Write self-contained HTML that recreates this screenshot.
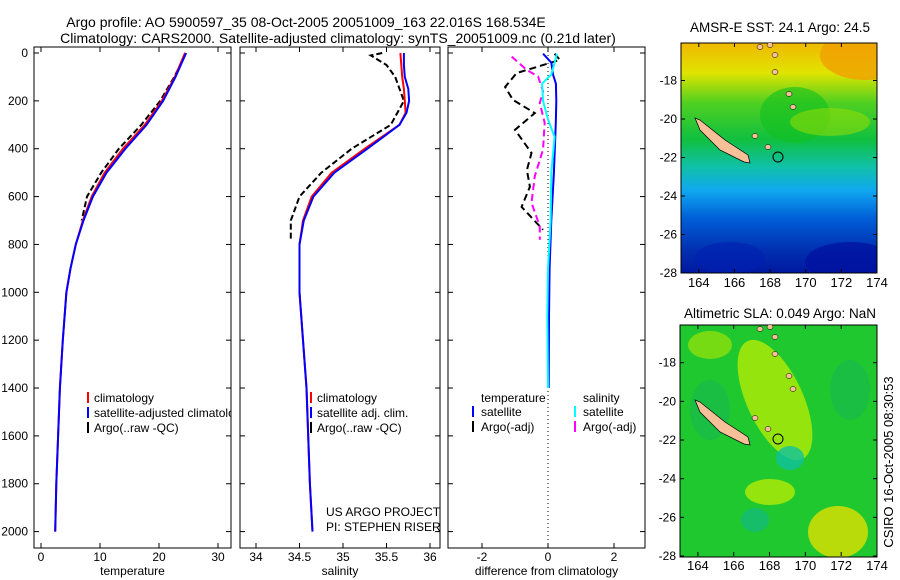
<!DOCTYPE html>
<html><head><meta charset="utf-8"><style>
html,body{margin:0;padding:0;background:#fff}
svg{display:block;font-family:"Liberation Sans",sans-serif}
text{font-size:12px;fill:#000}
.tt{font-size:14px}
.mt{font-size:13.5px}
.mk{font-size:13px}
</style></head><body>
<svg id="fig" width="900" height="580" viewBox="0 0 900 580">
<defs>
<linearGradient id="sst" x1="0" y1="0" x2="0" y2="1">
<stop offset="0" stop-color="#f0b800"/><stop offset="0.13" stop-color="#e0e400"/>
<stop offset="0.26" stop-color="#50d020"/><stop offset="0.42" stop-color="#10c040"/>
<stop offset="0.54" stop-color="#10c0a8"/><stop offset="0.64" stop-color="#10a8f0"/>
<stop offset="0.76" stop-color="#0060d8"/><stop offset="0.9" stop-color="#0030b0"/>
<stop offset="1" stop-color="#0018a0"/>
</linearGradient>
<clipPath id="c1"><rect x="34" y="47" width="197" height="501"/></clipPath>
<clipPath id="c2"><rect x="240" y="47" width="200" height="501"/></clipPath>
<clipPath id="c3"><rect x="448" y="47" width="197" height="501"/></clipPath>
<clipPath id="m1"><rect x="681" y="43" width="196" height="230"/></clipPath>
<clipPath id="m2"><rect x="680" y="325" width="197" height="232"/></clipPath>
</defs>
<text class="tt" x="306" y="27" text-anchor="middle">Argo profile: AO 5900597_35 08-Oct-2005 20051009_163 22.016S 168.534E</text>
<text class="tt" x="338" y="43" text-anchor="middle">Climatology: CARS2000. Satellite-adjusted climatology: synTS_20051009.nc (0.21d later)</text>

<g id="p1"></g>
<g id="p2"></g>
<g id="p3"></g>

<g clip-path="url(#c1)">
<line x1="88" y1="392" x2="88" y2="403" stroke="#f00" stroke-width="2"/><text x="94" y="402">climatology</text>
<line x1="88" y1="407" x2="88" y2="418" stroke="#00f" stroke-width="2"/><text x="94" y="417">satellite-adjusted climatology</text>
<line x1="88" y1="422" x2="88" y2="433" stroke="#000" stroke-width="2"/><text x="94" y="432">Argo(..raw -QC)</text>
</g>
<g>
<line x1="311" y1="392" x2="311" y2="403" stroke="#f00" stroke-width="2"/><text x="317" y="402">climatology</text>
<line x1="311" y1="407" x2="311" y2="418" stroke="#00f" stroke-width="2"/><text x="317" y="417">satellite adj. clim.</text>
<line x1="311" y1="422" x2="311" y2="433" stroke="#000" stroke-width="2"/><text x="317" y="432">Argo(..raw -QC)</text>
<text x="326" y="516">US ARGO PROJECT</text><text x="326" y="531">PI: STEPHEN RISER</text>
</g>
<g>
<text x="481" y="402">temperature</text><text x="583" y="402">salinity</text>
<line x1="473" y1="406" x2="473" y2="417" stroke="#00f" stroke-width="2"/><text x="481" y="416">satellite</text>
<line x1="473" y1="421" x2="473" y2="432" stroke="#000" stroke-width="2"/><text x="481" y="431">Argo(-adj)</text>
<line x1="575" y1="406" x2="575" y2="417" stroke="#0ff" stroke-width="2"/><text x="583" y="416">satellite</text>
<line x1="575" y1="421" x2="575" y2="432" stroke="#f0f" stroke-width="2"/><text x="583" y="431">Argo(-adj)</text>
</g>

<g>
<text class="mt" x="780" y="32" text-anchor="middle">AMSR-E SST: 24.1 Argo: 24.5</text>
<g clip-path="url(#m1)">
<rect x="681" y="43" width="196" height="230" fill="url(#sst)"/>
<ellipse cx="865" cy="55" rx="45" ry="25" fill="#f0a000" opacity="0.8"/>
<ellipse cx="795" cy="115" rx="35" ry="28" fill="#10c020" opacity="0.6"/>
<ellipse cx="830" cy="122" rx="40" ry="14" fill="#a0e000" opacity="0.5"/>
<ellipse cx="850" cy="262" rx="45" ry="20" fill="#0010a0" opacity="0.7"/>
<ellipse cx="730" cy="258" rx="35" ry="16" fill="#0020b0" opacity="0.6"/>
</g>
<rect x="681" y="43" width="196" height="230" fill="none" stroke="#000"/>
<g id="map1ax"></g>
</g>
<g>
<text class="mt" x="780" y="318" text-anchor="middle">Altimetric SLA: 0.049 Argo: NaN</text>
<g clip-path="url(#m2)">
<rect x="680" y="325" width="197" height="232" fill="#20c830"/>
<ellipse cx="775" cy="400" rx="28" ry="65" fill="#c8f000" opacity="0.7" transform="rotate(-25 775 400)"/>
<ellipse cx="710" cy="345" rx="22" ry="14" fill="#b0e800" opacity="0.6"/>
<ellipse cx="770" cy="492" rx="25" ry="13" fill="#c8f000" opacity="0.7"/>
<ellipse cx="838" cy="532" rx="30" ry="26" fill="#e0e000" opacity="0.8"/>
<ellipse cx="790" cy="458" rx="14" ry="12" fill="#10c0a0" opacity="0.8"/>
<ellipse cx="755" cy="520" rx="14" ry="12" fill="#10b890" opacity="0.6"/>
<ellipse cx="710" cy="410" rx="20" ry="30" fill="#10b060" opacity="0.4"/>
<ellipse cx="850" cy="390" rx="20" ry="30" fill="#10b060" opacity="0.4"/>
</g>
<rect x="680" y="325" width="197" height="232" fill="none" stroke="#000"/>
<g id="map2ax"></g>
</g>
<text class="mk" transform="translate(893,462) rotate(-90)" text-anchor="middle">CSIRO 16-Oct-2005 08:30:53</text>
</svg>
<script>
const tDepth=[0,100,200,300,400,500,600,700,800,900,1000,1200,1400,1600,1800,2000];
const tClim=[24.4,22.7,20.5,17.6,13.9,10.8,8.6,7.1,5.9,5.0,4.3,3.7,3.2,2.9,2.6,2.4];
const tSat=[24.6,22.8,20.7,17.9,14.3,11.1,8.8,7.2,5.9,5.0,4.3,3.7,3.2,2.9,2.6,2.4];
const aDepth=[0,50,100,200,300,400,500,600,700];
const tArgo=[24.5,23.6,22.6,20.2,17.0,13.2,10.2,7.8,6.9];
const sDepth=[0,50,100,150,200,250,300,400,500,600,700,800,1000,1200,1400,1600,1800,2000];
const sClim=[35.66,35.67,35.68,35.70,35.71,35.72,35.65,35.25,34.87,34.64,34.54,34.50,34.50,34.54,34.58,34.60,34.62,34.65];
const sSat=[35.70,35.70,35.71,35.75,35.76,35.73,35.65,35.28,34.90,34.66,34.55,34.50,34.50,34.54,34.58,34.60,34.62,34.65];
const saDepth=[0,10,50,100,200,300,400,500,600,700,780];
const sArgo=[35.45,35.32,35.5,35.6,35.7,35.55,35.1,34.75,34.5,34.4,34.4];
const dDepth=[3,29,84,142,196,251,321,418,489,559,643,739];
const dTArgo=[0.2,0.36,-0.95,-1.3,-1.06,-0.4,-1.0,-0.5,-0.64,-0.55,-0.8,-0.15];
const dmDepth=[15,70,98,160,209,292,404,515,626,724,780];
const dSArgo=[-1.1,-0.65,-0.3,-0.15,-0.25,-0.1,-0.15,-0.4,-0.5,-0.25,-0.25];
const dsDepth=[3,40,90,128,200,278,350,500,700,900,1100,1400];
const dTSat=[-0.15,0.1,0.15,0.24,0.25,0.24,0.22,0.18,0.1,0.05,0.03,0.02];
const dSSat=[0.27,0.2,0.1,-0.18,-0.15,0.0,0.2,0.1,0.08,0.0,-0.02,0.0];
const depthTicks=[0,200,400,600,800,1000,1200,1400,1600,1800,2000];
const tTicks=[0,10,20,30], sTicks=[34,34.5,35,35.5,36], dTicks=[-2,0,2];
const lonTicks=[164,166,168,170,172,174], latTicks=[-18,-20,-22,-24,-26,-28];

const NS='http://www.w3.org/2000/svg';
const Y=d=>53+d*0.2393;
const X1=v=>41+v*5.9, X2=v=>256+(v-34)*87, X3=v=>548+v*33;
function mk(p,tag,at){const e=document.createElementNS(NS,tag);for(const k in at)e.setAttribute(k,at[k]);p.appendChild(e);return e;}
function frame(g,x0,x1,X,ticks,label,showY){
  const r=mk(g,'rect',{x:x0,y:47,width:x1-x0,height:501,fill:'none',stroke:'#000'});
  
  
  ticks.forEach(t=>{const x=X(t);
    mk(g,'line',{x1:x,y1:548,x2:x,y2:543,stroke:'#000'});mk(g,'line',{x1:x,y1:47,x2:x,y2:52,stroke:'#000'});
    const tx=mk(g,'text',{x:x,y:561,'text-anchor':'middle'});tx.textContent=String(t);
    
    });
  depthTicks.forEach(d=>{const y=Y(d);
    mk(g,'line',{x1:x0,y1:y,x2:x0+5,y2:y,stroke:'#000'});mk(g,'line',{x1:x1,y1:y,x2:x1-5,y2:y,stroke:'#000'});
    if(showY){const tx=mk(g,'text',{x:28,y:y+4,'text-anchor':'end'});tx.textContent=String(d);
      
      }});
  const l=mk(g,'text',{x:(x0+x1)/2,y:575,'text-anchor':'middle'});l.textContent=label;
  
  
}
function line(g,X,ds,vs,col,dash,name,clip){
  const pts=ds.map((d,i)=>X(vs[i]).toFixed(1)+','+Y(d).toFixed(1)).join(' ');
  const p=mk(g,'polyline',{points:pts,fill:'none',stroke:col,'stroke-width':2,'clip-path':clip});
  if(dash)p.setAttribute('stroke-dasharray',dash);
  
  
}
const p1=document.getElementById('p1'),p2=document.getElementById('p2'),p3=document.getElementById('p3');
frame(p1,34,231,X1,tTicks,'temperature',true);
line(p1,X1,aDepth,tArgo,'#000','6,3','temp-argo-line','url(#c1)');
line(p1,X1,tDepth,tClim,'#f00',null,'temp-climatology-line','url(#c1)');
line(p1,X1,tDepth,tSat,'#00f',null,'temp-satellite-line','url(#c1)');
frame(p2,240,440,X2,sTicks,'salinity',false);
line(p2,X2,saDepth,sArgo,'#000','6,3','sal-argo-line','url(#c2)');
line(p2,X2,sDepth,sClim,'#f00',null,'sal-climatology-line','url(#c2)');
line(p2,X2,sDepth,sSat,'#00f',null,'sal-satellite-line','url(#c2)');
frame(p3,448,645,X3,dTicks,'difference from climatology',false);
const z=mk(p3,'line',{x1:X3(0),y1:47,x2:X3(0),y2:548,stroke:'#000','stroke-dasharray':'1,3'});


line(p3,X3,dDepth,dTArgo,'#000','7,4','diff-temp-argo-line','url(#c3)');
line(p3,X3,dmDepth,dSArgo,'#f0f','7,4','diff-sal-argo-line','url(#c3)');
line(p3,X3,dsDepth,dTSat,'#00f',null,'diff-temp-satellite-line','url(#c3)');
line(p3,X3,dsDepth,dSSat,'#0ff',null,'diff-sal-satellite-line','url(#c3)');

function mapAxes(id,x0,x1,top,bot,latTop){
  const g=document.getElementById(id);
  const LX=v=>x0+(v-163)*(x1-x0)/11, LY=v=>top+(latTop-v)*(bot-top)/(latTop+28);
  lonTicks.forEach(v=>{const x=LX(v);mk(g,'line',{x1:x,y1:bot,x2:x,y2:bot-4,stroke:'#000'});mk(g,'line',{x1:x,y1:top,x2:x,y2:top+4,stroke:'#000'});
    const t=mk(g,'text',{x:x,y:bot+14,'text-anchor':'middle','class':'mk'});t.textContent=v;
    
    });
  latTicks.forEach(v=>{const y=LY(v);mk(g,'line',{x1:x0,y1:y,x2:x0+4,y2:y,stroke:'#000'});mk(g,'line',{x1:x1,y1:y,x2:x1-4,y2:y,stroke:'#000'});
    const t=mk(g,'text',{x:x0-4,y:y+4,'text-anchor':'end'});t.textContent=v;
    
    });
  const dy=top-43;
  const isl=mk(g,'polygon',{points:`695,${118+dy} 700,${120+dy} 725,${140+dy} 748,${155+dy} 750,${163+dy} 744,${162+dy} 720,${150+dy} 700,${130+dy}`,fill:'#f8c098',stroke:'#000','stroke-width':0.7});
  
  
  [[760,47],[770,45],[775,55],[775,72],[789,94],[793,107],[755,136],[768,147]].forEach(p=>{
    const e=mk(g,'ellipse',{cx:p[0],cy:p[1]+dy,rx:3,ry:2.5,fill:'#f8c098',stroke:'#000','stroke-width':0.5});
    
    });
  const c=mk(g,'circle',{cx:778,cy:157+dy,r:5,fill:'none',stroke:'#000'});
  
  
}
mapAxes('map1ax',681,877,43,273,-16.05);
mapAxes('map2ax',680,877,325,556,-16.05);
</script>
</body></html>
